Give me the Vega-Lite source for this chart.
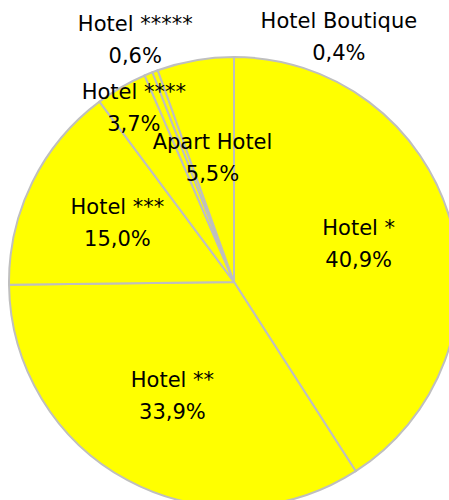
{
  "$schema": "https://vega.github.io/schema/vega-lite/v6.json",
  "autosize": "none",
  "padding": 0,
  "width": 468,
  "height": 564,
  "background": "white",
  "config": {"view": {"stroke": null}},
  "data": {
    "values": [
      {"cat": "Hotel *", "value": 40.9, "pct": "40,9%"},
      {"cat": "Hotel **", "value": 33.9, "pct": "33,9%"},
      {"cat": "Hotel ***", "value": 15.0, "pct": "15,0%"},
      {"cat": "Hotel ****", "value": 3.7, "pct": "3,7%"},
      {"cat": "Hotel *****", "value": 0.6, "pct": "0,6%"},
      {"cat": "Hotel Boutique", "value": 0.4, "pct": "0,4%"},
      {"cat": "Apart Hotel", "value": 5.5, "pct": "5,5%"}
    ]
  },
  "transform": [
    {"window": [{"op": "row_number", "as": "i"}]},
    {"calculate": "datum.cat + '|' + datum.pct", "as": "label"}
  ],
  "encoding": {
    "theta": {"field": "value", "type": "quantitative", "stack": true},
    "order": {"field": "i", "type": "quantitative", "sort": "ascending"}
  },
  "layer": [
    {
      "mark": {"type": "arc", "outerRadius": 225, "fill": "#FFFF00", "stroke": "#BFBFBF", "strokeWidth": 2}
    },
    {
      "mark": {
        "type": "text",
        "font": "DejaVu Sans",
        "fontSize": 21,
        "lineHeight": 32,
        "lineBreak": "|",
        "color": "#000000",
        "baseline": "middle",
        "align": "center",
        "dy": -16,
        "radius": {"expr": "datum.value >= 10 ? 130 : datum.value >= 5 ? 125 : datum.value >= 1 ? 200 : 260"},
        "dx": {"expr": "datum.value < 0.5 ? 196 : 0"}
      },
      "encoding": {
        "text": {"field": "label", "type": "nominal"}
      }
    }
  ]
}
